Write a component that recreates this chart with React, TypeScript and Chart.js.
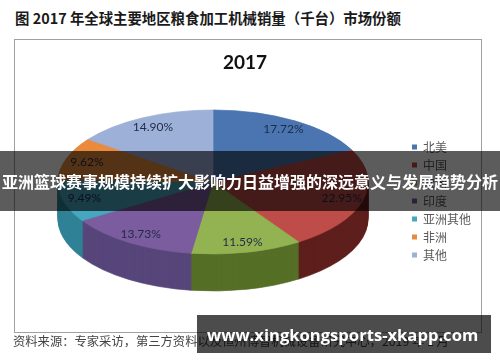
import React, { useEffect, useRef } from 'react';
import { Chart, registerables } from 'chart.js';

Chart.register(...registerables);

const regions = ['北美', '中国', '欧洲', '印度', '亚洲其他', '非洲', '其他'];
const shares = [17.72, 22.95, 11.59, 13.73, 9.49, 9.62, 14.9];
const topColors = ['#4a75b0', '#be4c49', '#93b352', '#7b5c9e', '#47a6c0', '#e98a3c', '#9db0d8'];
const sideColors = ['#2f4e7a', '#5e1f1c', '#566f27', '#57467a', '#2f8296', '#a65b1e', '#6878a0'];
const chartTitle = '2017';
const figureTitle = '图 2017 年全球主要地区粮食加工机械销量（千台）市场份额';
const sourceNote = '资料来源：专家采访，第三方资料以及恒州博智机械设备研究中心，2019 年 1 月';
const bannerText = '亚洲篮球赛事规模持续扩大影响力日益增强的深远意义与发展趋势分析';
const siteText = 'www.xingkongsports-xkapp.com';

const PIE = { cx: 213, cy: 182, rx: 155, ry: 72, depth: 37, labelR: 0.86 };

const pie3d = {
  id: 'pie3d',
  beforeDatasetsDraw(chart: any) {
    const meta = chart.getDatasetMeta(0);
    const arcs = meta.data as any[];
    if (!arcs.length) return false;
    const ctx = chart.ctx as CanvasRenderingContext2D;
    const a0 = arcs[0];
    const ox = a0.x, oy = a0.y, r = a0.outerRadius;
    const sx = PIE.rx / r, sy = PIE.ry / r;
    const drawLayer = (dy: number, colors: string[]) => {
      ctx.save();
      ctx.translate(PIE.cx, PIE.cy + dy);
      ctx.scale(sx, sy);
      ctx.translate(-ox, -oy);
      arcs.forEach((arc, i) => {
        const saved = arc.options;
        arc.options = Object.assign({}, saved, {
          backgroundColor: colors[i],
          borderColor: colors[i],
          borderWidth: 1,
        });
        arc.draw(ctx);
        arc.options = saved;
      });
      ctx.restore();
    };
    for (let d = PIE.depth; d >= 1; d--) drawLayer(d, sideColors);
    drawLayer(0, topColors);

    ctx.save();
    ctx.font = '12px Lato, "Liberation Sans", sans-serif';
    ctx.fillStyle = '#1f2b47';
    ctx.textAlign = 'center';
    ctx.textBaseline = 'middle';
    arcs.forEach((arc, i) => {
      const mid = (arc.startAngle + arc.endAngle) / 2;
      const x = PIE.cx + PIE.rx * PIE.labelR * Math.cos(mid);
      const y = PIE.cy + PIE.ry * PIE.labelR * Math.sin(mid);
      ctx.fillText(shares[i].toFixed(2) + '%', x, y);
    });
    ctx.restore();
    return false;
  },
};

export default function App() {
  const ref = useRef<HTMLCanvasElement | null>(null);
  useEffect(() => {
    if (!ref.current) return;
    const chart = new Chart(ref.current, {
      type: 'pie',
      data: {
        labels: regions,
        datasets: [{ data: shares, backgroundColor: topColors, borderWidth: 0 }],
      },
      options: {
        responsive: false,
        animation: false,
        events: [],
        layout: { padding: { top: 40, bottom: 0, left: 0, right: 19 } },
        plugins: {
          legend: {
            position: 'right',
            labels: {
              boxWidth: 5,
              boxHeight: 5,
              padding: 6,
              color: '#595959',
              font: { size: 12, family: '"Noto Sans CJK SC", sans-serif' },
            },
          },
          tooltip: { enabled: false },
          title: { display: false },
        },
      },
      plugins: [pie3d],
    } as any);
    return () => chart.destroy();
  }, []);

  const cjk = '"Noto Sans CJK SC", sans-serif';
  return (
    <div style={{ position: 'absolute', left: 0, top: 0, width: 500, height: 362, overflow: 'hidden', background: '#fff' }}>
      <div style={{ position: 'absolute', left: 15, top: 8, fontFamily: cjk, fontSize: 14.4, fontWeight: 700, lineHeight: '20px', color: '#1a1a1a', whiteSpace: 'nowrap' }}>
        {figureTitle}
      </div>
      <div style={{ position: 'absolute', left: 14, top: 39, width: 468, height: 294, boxSizing: 'border-box', border: '1px solid #a0a0a0' }} />
      <canvas ref={ref} width={500} height={362} style={{ position: 'absolute', left: 0, top: 0, width: 500, height: 362 }} />
      <div style={{ position: 'absolute', left: 205, top: 50, width: 80, textAlign: 'center', fontFamily: 'Lato, sans-serif', fontWeight: 700, fontSize: 19, lineHeight: '24px', color: '#111' }}>
        {chartTitle}
      </div>
      <div style={{ position: 'absolute', left: 13, top: 333, fontFamily: cjk, fontSize: 12.3, lineHeight: '16px', color: '#444', whiteSpace: 'nowrap' }}>
        {sourceNote}
      </div>
      <div style={{ position: 'absolute', left: 0, top: 151, width: 500, height: 60, background: 'rgba(0,0,0,0.64)', color: '#fff', fontFamily: cjk, fontWeight: 700, fontSize: 16, lineHeight: '60px', textAlign: 'center', whiteSpace: 'nowrap' }}>
        {bannerText}
      </div>
      <div style={{ position: 'absolute', left: 197, top: 315, width: 294, height: 38, background: 'rgba(0,0,0,0.7)', color: '#fff', fontFamily: '"Open Sans", sans-serif', fontWeight: 700, fontSize: 16.6, lineHeight: '40px', paddingLeft: 10, boxSizing: 'border-box', whiteSpace: 'nowrap' }}>
        {siteText}
      </div>
    </div>
  );
}
